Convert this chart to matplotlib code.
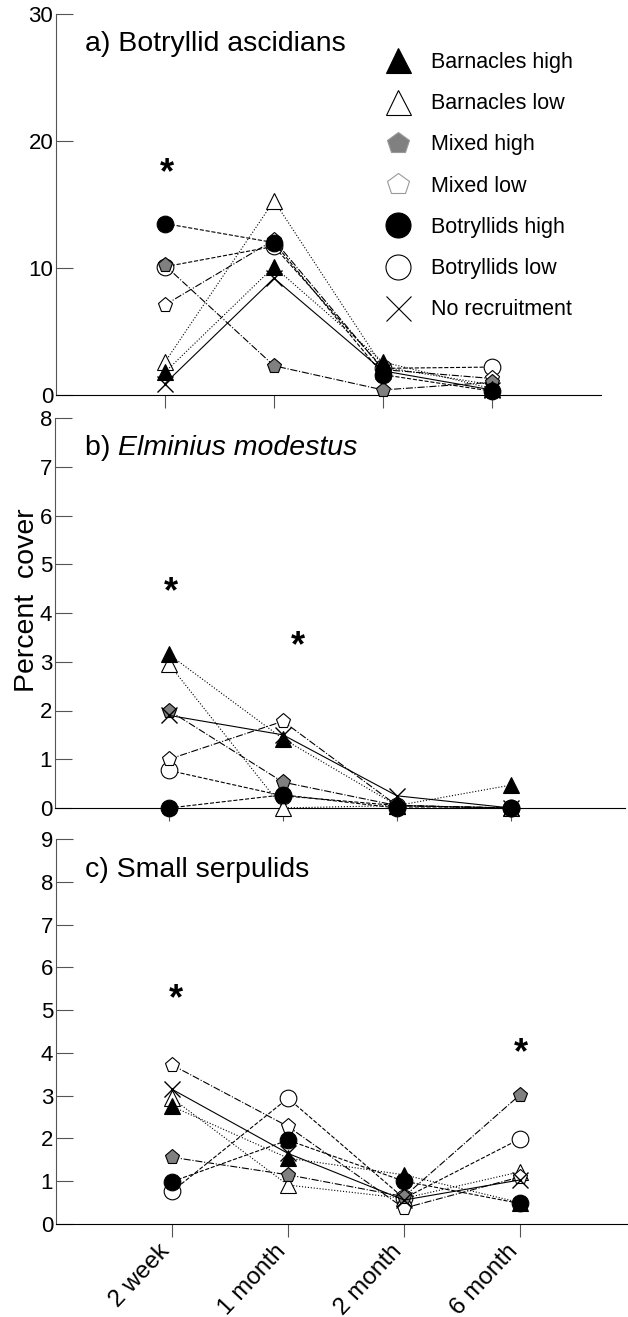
import matplotlib
matplotlib.use("Agg")
import matplotlib.pyplot as plt
from matplotlib.lines import Line2D
from matplotlib.transforms import ScaledTranslation

plt.rcParams["font.family"] = ["Liberation Sans", "DejaVu Sans"]

timepoints = ["2 week", "1 month", "2 month", "6 month"]
treatments = ["Barnacles high", "Barnacles low", "Mixed high", "Mixed low",
              "Botryllids high", "Botryllids low", "No recruitment"]

# percent cover, one row per treatment, columns = timepoints
botryllid_cover = [
    [1.8, 10.1, 2.6, 0.5],
    [2.6, 15.3, 2.2, 0.8],
    [10.2, 2.3, 0.4, 1.0],
    [7.1, 12.2, 2.0, 1.3],
    [13.5, 12.0, 1.6, 0.3],
    [10.1, 11.7, 2.1, 2.2],
    [0.9, 9.2, 1.9, 0.4],
]
elminius_cover = [
    [3.15, 1.42, 0.05, 0.47],
    [2.95, 0.0, 0.05, 0.0],
    [2.0, 0.53, 0.05, 0.0],
    [1.0, 1.78, 0.05, 0.0],
    [0.0, 0.27, 0.0, 0.0],
    [0.77, 0.25, 0.05, 0.0],
    [1.9, 1.5, 0.25, 0.0],
]
serpulid_cover = [
    [2.75, 1.54, 1.15, 0.5],
    [2.94, 0.91, 0.6, 1.22],
    [1.56, 1.15, 0.64, 3.02],
    [3.72, 2.28, 0.37, 1.1],
    [0.99, 1.96, 1.0, 0.48],
    [0.76, 2.94, 0.6, 1.99],
    [3.15, 1.65, 0.56, 1.03],
]

# significance stars: (x position, y)
stars_a = [(1.02, 18.0)]
stars_b = [(1.02, 4.55), (2.13, 3.45)]
stars_c = [(1.03, 5.4), (4.01, 4.15)]

# marker, facecolor, linestyle, zorder for each treatment
styles = [
    ("^", "black", ":", 8),
    ("^", "white", ":", 4),
    ("p", "#808080", "-.", 6),
    ("p", "white", "-.", 5),
    ("o", "black", "--", 7),
    ("o", "white", "--", 3),
    ("x", "none", "-", 9),
]
msize = {"^": 12, "o": 12, "p": 11, "x": 12}

fig = plt.figure(figsize=(6.28, 13.17), dpi=100)

panels = [
    # rect, data, ylim, yticks, stars
    ([56 / 628, 1 - 395 / 1317, 545 / 628, 381 / 1317], botryllid_cover, 30, [0, 10, 20, 30], stars_a),
    ([55 / 628, 1 - 808 / 1317, 570 / 628, 390 / 1317], elminius_cover, 8, list(range(9)), stars_b),
    ([56 / 628, 1 - 1224 / 1317, 580 / 628, 385 / 1317], serpulid_cover, 9, list(range(10)), stars_c),
]

axes = []
for i, (rect, data, ymax, yticks, stars) in enumerate(panels):
    ax = fig.add_axes(rect)
    axes.append(ax)
    x = range(1, len(timepoints) + 1)
    for vals, (mk, fc, ls, z) in zip(data, styles):
        ax.plot(x, vals, linestyle=ls, color="black", linewidth=0.8,
                marker=mk, markersize=msize[mk], markerfacecolor=fc,
                markeredgecolor="black", markeredgewidth=0.8 if mk != "x" else 1.0,
                zorder=z, clip_on=False)
    for sx, sy in stars:
        ax.annotate("*", (sx, sy), xytext=(0, -5), textcoords="offset points",
                    fontsize=26, fontweight="bold", ha="center", va="center")
    ax.set_xlim(0, 5)
    ax.set_ylim(0, ymax)
    ax.set_yticks(yticks)
    ax.set_xticks(list(x))
    ax.spines["top"].set_visible(False)
    ax.spines["right"].set_visible(False)
    ax.spines["left"].set_color("#555555")
    ax.spines["bottom"].set_color("black")
    ax.tick_params(axis="y", direction="in", length=12, width=0.8, color="#555555",
                   labelsize=16, pad=2)
    ax.tick_params(axis="x", direction="out", length=9, width=0.8, color="#555555",
                   labelsize=17.5, pad=8)
    if i < 2:
        ax.set_xticklabels([])
    else:
        ax.set_xticklabels(timepoints, rotation=47, ha="right", va="center",
                           rotation_mode="anchor")
        shift = ScaledTranslation(-4 / 72, 0, fig.dpi_scale_trans)
        for lab in ax.get_xticklabels():
            lab.set_transform(lab.get_transform() + shift)

# panel titles
fig.text(85 / 628, 1 - 44 / 1317, "a) Botryllid ascidians", fontsize=20.5, va="center", ha="left")
tb = fig.text(85 / 628, 1 - 448 / 1317, "b) ", fontsize=20.5, va="center", ha="left")
axes[1].annotate("Elminius modestus", xy=(1, 0.5), xycoords=tb, fontsize=20.5,
                 style="italic", va="center", ha="left")
fig.text(85 / 628, 1 - 870 / 1317, "c) Small serpulids", fontsize=20.5, va="center", ha="left")

fig.text(27 / 628, 1 - 600 / 1317, "Percent  cover", fontsize=20.5, rotation=90,
         va="center", ha="center")

# legend in panel a
handles = []
for (mk, fc, ls, z) in styles:
    ec = "#999999" if (mk == "p") else "black"
    handles.append(Line2D([], [], linestyle="none", marker=mk,
                          markersize=18 if mk != "p" else 16,
                          markerfacecolor=fc, markeredgecolor=ec,
                          markeredgewidth=0.8))
fig.legend(handles, treatments, loc="upper left",
           bbox_to_anchor=(385 / 628, 1 - 52 / 1317), frameon=False,
           fontsize=15.5, handlelength=1.2, handletextpad=0.93, labelspacing=0.94,
           borderpad=0, borderaxespad=0)

fig.savefig("out.png", dpi=100)
